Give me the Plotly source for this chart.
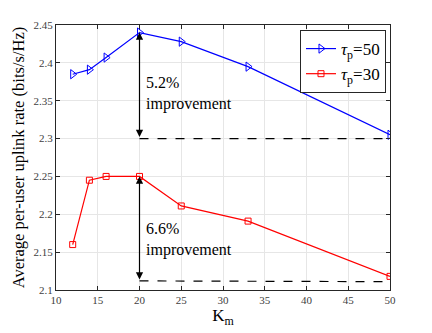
import plotly.graph_objects as go

km = [12, 14, 16, 20, 25, 33, 50]
rate_tau50 = [2.385, 2.391, 2.407, 2.440, 2.428, 2.395, 2.305]
rate_tau30 = [2.160, 2.245, 2.250, 2.250, 2.211, 2.191, 2.118]

ref_x = [20, 50]
ref_tau50 = [2.300, 2.300]
ref_tau30 = [2.112, 2.111]

yticks = [2.1, 2.15, 2.2, 2.25, 2.3, 2.35, 2.4, 2.45]
ytick_text = ['2.1', '2.15', '2.2', '2.25', '2.3', '2.35', '2.4', '2.45']

labels = [('5.2%<br>improvement', 2.360), ('6.6%<br>improvement', 2.167)]

FONT = 'Liberation Serif'

fig = go.Figure()

fig.add_trace(go.Scatter(x=ref_x, y=ref_tau50, mode='lines', showlegend=False,
                         line=dict(color='black', width=1.2, dash='dash')))
fig.add_trace(go.Scatter(x=ref_x, y=ref_tau30, mode='lines', showlegend=False,
                         line=dict(color='black', width=1.2, dash='dash')))

fig.add_trace(go.Scatter(x=km, y=rate_tau50, mode='lines+markers', name='<i>τ</i><sub>p</sub>=50',
                         line=dict(color='#0000ff', width=1.2),
                         marker=dict(symbol='triangle-right-open', size=8, color='#0000ff')))
fig.add_trace(go.Scatter(x=km, y=rate_tau30, mode='lines+markers', name='<i>τ</i><sub>p</sub>=30',
                         line=dict(color='#ff0000', width=1.2),
                         marker=dict(symbol='square-open', size=6, color='#ff0000')))

# double-headed arrows
for top, bottom in [(rate_tau50[3], ref_tau50[0]), (rate_tau30[3], ref_tau30[0])]:
    fig.add_annotation(x=20, y=top, ax=20, ay=bottom, xref='x', yref='y', axref='x', ayref='y',
                       text='', showarrow=True, arrowhead=2, arrowside='end+start',
                       arrowsize=1.2, arrowwidth=1.2, arrowcolor='black')

for txt, yv in labels:
    fig.add_annotation(x=20.5, y=yv, xref='x', yref='y', text=txt,
                       showarrow=False, xanchor='left', align='left',
                       font=dict(family=FONT, size=16, color='black'))

axis_common = dict(showline=True, linecolor='#262626', linewidth=1, mirror='ticks',
                   ticks='inside', ticklen=4, tickcolor='#262626', automargin=False,
                   showgrid=True, gridcolor='#e6e6e6', gridwidth=1, zeroline=False,
                   tickfont=dict(family=FONT, size=11, color='#404040'))

fig.update_xaxes(range=[10, 50], dtick=5, tick0=10,
                 title=dict(text='K<sub>m</sub>', font=dict(family=FONT, size=17, color='black'), standoff=2),
                 **axis_common)
fig.update_yaxes(range=[2.1, 2.45], tickvals=yticks, ticktext=ytick_text,
                 title=dict(text='Average per-user uplink rate (bits/s/Hz)',
                            font=dict(family=FONT, size=16.5, color='black'), standoff=4),
                 **axis_common)

# page body has an 8px margin, so shift the plot area back by that much
fig.update_layout(
    width=432, height=333,
    margin=dict(l=48, r=50, t=17, b=51),
    plot_bgcolor='white', paper_bgcolor='white',
    legend=dict(x=0.988, y=0.981, xanchor='right', yanchor='top',
                bgcolor='white', bordercolor='#262626', borderwidth=1,
                font=dict(family=FONT, size=17, color='black'),
                tracegroupgap=0, itemwidth=30),
)

fig.write_html("out.html")
